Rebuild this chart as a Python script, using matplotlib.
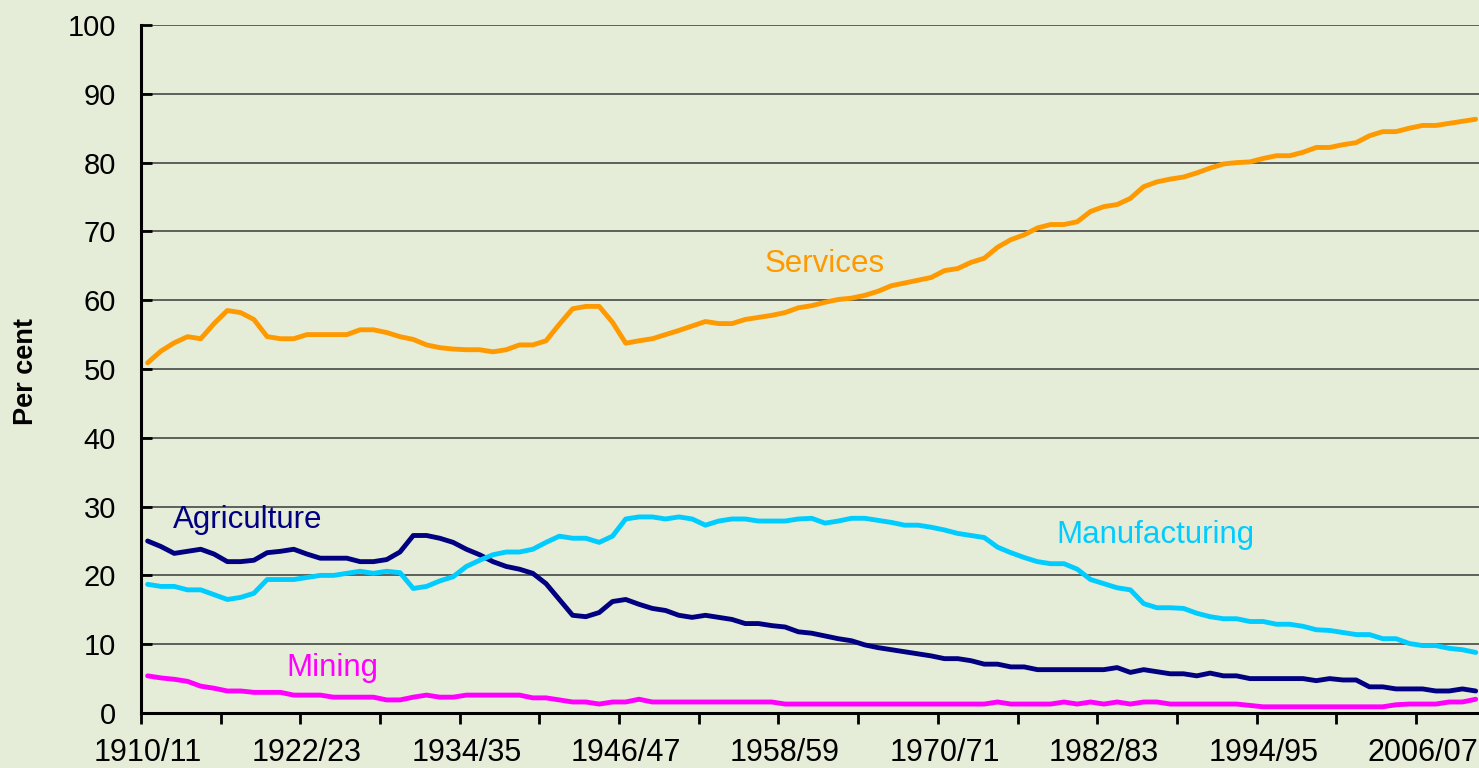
import matplotlib
matplotlib.use("Agg")
import matplotlib.pyplot as plt
import numpy as np

plt.rcParams['font.family'] = ['Liberation Sans', 'DejaVu Sans']

start_years = list(range(1910, 2011))
categories = [f"{y}/{str(y + 1)[-2:]}" for y in start_years]
tick_labels = ["1910/11", "1922/23", "1934/35", "1946/47", "1958/59",
               "1970/71", "1982/83", "1994/95", "2006/07"]

services = [50.9, 52.6, 53.8, 54.7, 54.4, 56.6, 58.5, 58.2, 57.2, 54.7,
            54.4, 54.4, 55.0, 55.0, 55.0, 55.0, 55.7, 55.7, 55.3, 54.7,
            54.3, 53.5, 53.1, 52.9, 52.8, 52.8, 52.5, 52.8, 53.5, 53.5,
            54.1, 56.5, 58.75, 59.1, 59.1, 56.8, 53.75, 54.1, 54.4, 55.0,
            55.6, 56.25, 56.9, 56.6, 56.6, 57.2, 57.5, 57.8, 58.2, 58.9,
            59.2, 59.7, 60.1, 60.3, 60.7, 61.3, 62.1, 62.5, 62.9, 63.3,
            64.3, 64.6, 65.5, 66.1, 67.7, 68.8, 69.5, 70.5, 71.0, 71.0,
            71.4, 72.9, 73.6, 73.9, 74.8, 76.5, 77.2, 77.6, 77.9, 78.5,
            79.2, 79.8, 80.0, 80.1, 80.6, 81.0, 81.0, 81.5, 82.2, 82.2,
            82.6, 82.9, 83.9, 84.5, 84.5, 85.0, 85.4, 85.4, 85.7, 86.0, 86.3]

agriculture = [25.0, 24.2, 23.2, 23.5, 23.8, 23.1, 22.0, 22.0, 22.2, 23.3,
               23.5, 23.8, 23.1, 22.5, 22.5, 22.5, 22.0, 22.0, 22.3, 23.4,
               25.8, 25.8, 25.4, 24.8, 23.8, 23.0, 22.0, 21.3, 20.9, 20.3,
               18.8, 16.5, 14.2, 14.0, 14.6, 16.2, 16.5, 15.8, 15.2, 14.9,
               14.2, 13.9, 14.2, 13.9, 13.6, 13.0, 13.0, 12.7, 12.5, 11.8,
               11.6, 11.2, 10.8, 10.5, 9.9, 9.5, 9.2, 8.9, 8.6, 8.3,
               7.9, 7.9, 7.6, 7.1, 7.1, 6.7, 6.7, 6.3, 6.3, 6.3,
               6.3, 6.3, 6.3, 6.6, 5.9, 6.3, 6.0, 5.7, 5.7, 5.4,
               5.8, 5.4, 5.4, 5.0, 5.0, 5.0, 5.0, 5.0, 4.7, 5.0,
               4.8, 4.8, 3.8, 3.8, 3.5, 3.5, 3.5, 3.2, 3.2, 3.5, 3.2]

manufacturing = [18.7, 18.4, 18.4, 17.9, 17.9, 17.2, 16.5, 16.8, 17.4, 19.4,
                 19.4, 19.4, 19.7, 20.0, 20.0, 20.3, 20.6, 20.3, 20.6, 20.4,
                 18.1, 18.4, 19.2, 19.8, 21.3, 22.2, 23.0, 23.4, 23.4, 23.8,
                 24.8, 25.7, 25.4, 25.4, 24.8, 25.7, 28.2, 28.5, 28.5, 28.2,
                 28.5, 28.2, 27.3, 27.9, 28.2, 28.2, 27.9, 27.9, 27.9, 28.2,
                 28.3, 27.6, 27.9, 28.3, 28.3, 28.0, 27.7, 27.3, 27.3, 27.0,
                 26.6, 26.1, 25.8, 25.5, 24.1, 23.3, 22.6, 22.0, 21.7, 21.7,
                 20.9, 19.4, 18.8, 18.2, 17.9, 15.9, 15.3, 15.3, 15.2, 14.5,
                 14.0, 13.7, 13.7, 13.3, 13.3, 12.9, 12.9, 12.6, 12.1, 12.0,
                 11.7, 11.4, 11.4, 10.8, 10.8, 10.1, 9.8, 9.8, 9.4, 9.2, 8.8]

mining = [5.4, 5.1, 4.9, 4.6, 3.9, 3.6, 3.2, 3.2, 3.0, 3.0,
          3.0, 2.6, 2.6, 2.6, 2.3, 2.3, 2.3, 2.3, 1.9, 1.9,
          2.3, 2.6, 2.3, 2.3, 2.6, 2.6, 2.6, 2.6, 2.6, 2.2,
          2.2, 1.9, 1.6, 1.6, 1.3, 1.6, 1.6, 2.0, 1.6, 1.6,
          1.6, 1.6, 1.6, 1.6, 1.6, 1.6, 1.6, 1.6, 1.3, 1.3,
          1.3, 1.3, 1.3, 1.3, 1.3, 1.3, 1.3, 1.3, 1.3, 1.3,
          1.3, 1.3, 1.3, 1.3, 1.6, 1.3, 1.3, 1.3, 1.3, 1.6,
          1.3, 1.6, 1.3, 1.6, 1.3, 1.6, 1.6, 1.3, 1.3, 1.3,
          1.3, 1.3, 1.3, 1.1, 0.9, 0.9, 0.9, 0.9, 0.9, 0.9,
          0.9, 0.9, 0.9, 0.9, 1.2, 1.3, 1.3, 1.3, 1.6, 1.6, 2.0]

series = [
    ("Services", services, "#FF9900", (51.0, 65.3)),
    ("Agriculture", agriculture, "#000080", (7.5, 28.1)),
    ("Manufacturing", manufacturing, "#00CCFF", (75.9, 25.9)),
    ("Mining", mining, "#FF00FF", (13.9, 6.5)),
]

bg = "#E5ECD7"
fig = plt.figure(figsize=(14.79, 7.68), dpi=100, facecolor=bg)
ax = fig.add_axes([141 / 1479, (768 - 713) / 768, 1 - 141 / 1479, (713 - 25) / 768])
ax.set_facecolor(bg)

x = np.arange(len(categories))
for name, vals, col, (lx, ly) in series:
    ax.plot(x, vals, color=col, lw=3.5, solid_joinstyle='round', solid_capstyle='round',
            zorder=3, clip_on=False)
    ax.text(lx, ly, name, color=col, fontsize=22.5, ha='center', va='center', zorder=4)

ax.set_xlim(-0.5, 100.25)
ax.set_ylim(0, 100)
ax.set_yticks(np.arange(0, 101, 10))
ax.yaxis.grid(True, color='#3a3a3a', lw=1.1, zorder=1)
ax.set_axisbelow(True)

label_pos = [categories.index(t) for t in tick_labels]
ax.set_xticks(label_pos)
ax.set_xticklabels(tick_labels)
ax.set_xticks(np.arange(-0.5, 100.5, 6), minor=True)
ax.tick_params(axis='x', which='major', length=0, pad=18, labelsize=22)
ax.tick_params(axis='x', which='minor', length=8, width=2, direction='out', color='black')
ax.tick_params(axis='y', which='major', length=8, width=2, direction='in', pad=18,
               labelsize=21)

for s in ['top', 'right']:
    ax.spines[s].set_visible(False)
for s in ['left', 'bottom']:
    ax.spines[s].set_linewidth(2.2)
    ax.spines[s].set_color('black')
    ax.spines[s].set_zorder(5)

fig.text(26 / 1479, 1 - 371 / 768, "Per cent", rotation=90, fontsize=19.5, fontweight='bold',
         ha='center', va='center')

fig.savefig("out.png", dpi=100, facecolor=bg)
